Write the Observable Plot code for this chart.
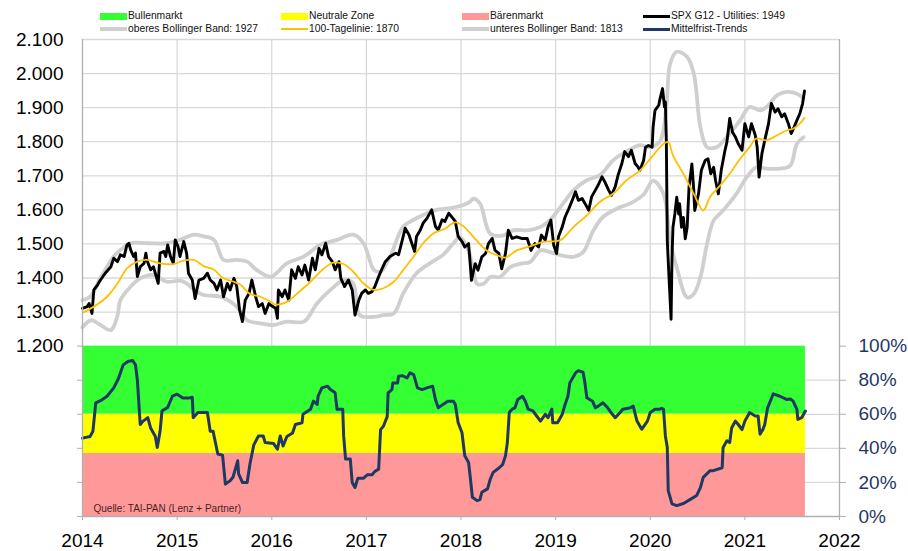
<!DOCTYPE html>
<html>
<head>
<meta charset="utf-8">
<script src="https://cdn.jsdelivr.net/npm/d3@7"></script>
<script src="https://cdn.jsdelivr.net/npm/@observablehq/plot@0.6"></script>
<style>
  html, body { margin: 0; padding: 0; background: #fff; }
  #legend { position: relative; width: 908px; height: 31px; font-family: "Liberation Sans", Arial, sans-serif; font-size: 10.3px; color: #111; }
  #legend .sw { position: absolute; }
  #legend .tx { position: absolute; line-height: 12px; white-space: nowrap; }
  #chart svg { display: block; }
</style>
</head>
<body>
<div id="legend"></div>
<div id="chart"></div>
<script>
// ---------- DATA ----------
const yearTicks = [2014, 2015, 2016, 2017, 2018, 2019, 2020, 2021, 2022];
const priceTicks = [1200, 1300, 1400, 1500, 1600, 1700, 1800, 1900, 2000, 2100];
const pctTicks = [0, 20, 40, 60, 80, 100];

// Market zones of the trend panel (percent limits)
const zoneNames = ["Bullenmarkt", "Neutrale Zone", "Bärenmarkt"];
const zoneLo = [60, 37, 0];
const zoneHi = [100, 60, 37];

const legendRow1 = ["Bullenmarkt", "Neutrale Zone", "Bärenmarkt", "SPX G12 - Utilities: 1949"];
const legendRow2 = ["oberes Bollinger Band: 1927", "100-Tagelinie: 1870", "unteres Bollinger Band: 1813", "Mittelfrist-Trends"];
const sourceText = "Quelle: TAI-PAN (Lenz + Partner)";

// [decimal year, index value]
const spx = [
[2014.00,1311],[2014.05,1316],[2014.07,1325],[2014.10,1296],[2014.12,1365],[2014.16,1380],[2014.19,1394],[2014.24,1414],[2014.30,1433],[2014.33,1458],[2014.37,1448],[2014.40,1468],[2014.44,1463],[2014.47,1497],[2014.49,1502],[2014.51,1482],[2014.54,1463],[2014.56,1473],[2014.58,1404],[2014.61,1433],[2014.65,1443],[2014.67,1473],[2014.68,1453],[2014.72,1424],[2014.75,1433],[2014.80,1384],[2014.82,1473],[2014.86,1478],[2014.88,1463],[2014.90,1497],[2014.93,1463],[2014.96,1443],[2014.98,1512],[2015.01,1492],[2015.03,1463],[2015.07,1507],[2015.10,1473],[2015.12,1414],[2015.16,1394],[2015.19,1340],[2015.23,1394],[2015.28,1399],[2015.32,1414],[2015.35,1394],[2015.39,1384],[2015.42,1365],[2015.46,1394],[2015.49,1345],[2015.53,1384],[2015.56,1365],[2015.60,1399],[2015.63,1375],[2015.66,1306],[2015.69,1272],[2015.72,1335],[2015.76,1355],[2015.79,1394],[2015.83,1345],[2015.86,1316],[2015.90,1325],[2015.93,1296],[2015.97,1325],[2015.99,1320],[2016.04,1311],[2016.06,1282],[2016.07,1365],[2016.11,1345],[2016.14,1365],[2016.18,1335],[2016.21,1424],[2016.25,1399],[2016.28,1433],[2016.32,1409],[2016.35,1438],[2016.39,1394],[2016.43,1458],[2016.46,1424],[2016.50,1487],[2016.53,1468],[2016.57,1502],[2016.60,1463],[2016.64,1448],[2016.67,1424],[2016.71,1448],[2016.73,1399],[2016.77,1375],[2016.81,1394],[2016.85,1365],[2016.88,1291],[2016.92,1335],[2016.95,1355],[2016.99,1365],[2017.02,1355],[2017.06,1360],[2017.09,1375],[2017.13,1404],[2017.16,1424],[2017.20,1448],[2017.25,1463],[2017.31,1473],[2017.34,1468],[2017.38,1512],[2017.41,1546],[2017.45,1527],[2017.48,1502],[2017.51,1478],[2017.53,1522],[2017.57,1541],[2017.60,1561],[2017.64,1575],[2017.69,1600],[2017.73,1551],[2017.76,1541],[2017.80,1571],[2017.83,1566],[2017.87,1590],[2017.90,1580],[2017.94,1566],[2017.97,1522],[2018.01,1507],[2018.04,1491],[2018.08,1501],[2018.10,1432],[2018.11,1393],[2018.15,1442],[2018.18,1423],[2018.22,1462],[2018.26,1472],[2018.29,1501],[2018.33,1516],[2018.36,1481],[2018.40,1472],[2018.43,1427],[2018.47,1472],[2018.50,1540],[2018.54,1516],[2018.59,1521],[2018.64,1516],[2018.70,1516],[2018.74,1481],[2018.78,1501],[2018.82,1491],[2018.85,1526],[2018.89,1511],[2018.92,1550],[2018.95,1570],[2018.98,1496],[2019.01,1472],[2019.03,1521],[2019.07,1550],[2019.10,1579],[2019.14,1604],[2019.17,1624],[2019.21,1653],[2019.24,1628],[2019.28,1633],[2019.31,1619],[2019.35,1599],[2019.38,1638],[2019.42,1658],[2019.45,1673],[2019.49,1697],[2019.52,1682],[2019.56,1658],[2019.59,1643],[2019.63,1668],[2019.66,1702],[2019.70,1736],[2019.73,1771],[2019.77,1756],[2019.80,1775],[2019.84,1736],[2019.87,1726],[2019.89,1716],[2019.93,1745],[2019.95,1784],[2019.98,1789],[2020.02,1784],[2020.03,1843],[2020.05,1892],[2020.09,1907],[2020.10,1922],[2020.13,1956],[2020.15,1902],[2020.16,1917],[2020.17,1804],[2020.18,1510],[2020.20,1392],[2020.22,1279],[2020.23,1461],[2020.24,1549],[2020.26,1588],[2020.28,1637],[2020.30,1588],[2020.31,1618],[2020.33,1549],[2020.35,1578],[2020.37,1515],[2020.39,1549],[2020.41,1667],[2020.44,1735],[2020.46,1657],[2020.47,1598],[2020.51,1647],[2020.54,1716],[2020.58,1745],[2020.61,1750],[2020.64,1706],[2020.67,1725],[2020.69,1686],[2020.72,1647],[2020.75,1716],[2020.79,1775],[2020.81,1799],[2020.84,1868],[2020.87,1828],[2020.90,1814],[2020.93,1794],[2020.97,1775],[2021.00,1853],[2021.04,1814],[2021.07,1853],[2021.11,1819],[2021.13,1784],[2021.15,1696],[2021.18,1765],[2021.21,1804],[2021.25,1853],[2021.28,1912],[2021.32,1887],[2021.35,1897],[2021.39,1873],[2021.42,1882],[2021.46,1853],[2021.49,1824],[2021.52,1843],[2021.55,1863],[2021.58,1882],[2021.61,1912],[2021.63,1949]
];

const ma100 = [
[2014.00,1298],[2014.12,1316],[2014.26,1345],[2014.37,1384],[2014.47,1428],[2014.58,1448],[2014.68,1453],[2014.82,1443],[2014.96,1441],[2015.07,1451],[2015.18,1453],[2015.28,1435],[2015.39,1424],[2015.49,1399],[2015.60,1389],[2015.67,1380],[2015.77,1353],[2015.88,1345],[2015.99,1330],[2016.04,1322],[2016.16,1330],[2016.27,1355],[2016.41,1389],[2016.55,1428],[2016.65,1445],[2016.76,1441],[2016.86,1419],[2016.97,1384],[2017.08,1365],[2017.18,1370],[2017.29,1389],[2017.39,1424],[2017.50,1463],[2017.60,1502],[2017.71,1531],[2017.82,1543],[2017.94,1563],[2018.03,1551],[2018.13,1521],[2018.27,1481],[2018.38,1467],[2018.47,1460],[2018.59,1481],[2018.73,1493],[2018.87,1506],[2019.05,1511],[2019.19,1550],[2019.33,1584],[2019.47,1624],[2019.61,1648],[2019.75,1687],[2019.89,1715],[2020.03,1760],[2020.14,1794],[2020.19,1799],[2020.24,1760],[2020.35,1706],[2020.46,1647],[2020.56,1598],[2020.63,1637],[2020.74,1672],[2020.84,1706],[2020.95,1750],[2021.05,1784],[2021.12,1809],[2021.23,1804],[2021.34,1819],[2021.44,1833],[2021.51,1838],[2021.58,1853],[2021.63,1870]
];

const upperBand = [
[2014.00,1335],[2014.08,1345],[2014.19,1400],[2014.33,1463],[2014.40,1482],[2014.51,1502],[2014.68,1502],[2014.89,1502],[2015.03,1512],[2015.18,1527],[2015.28,1522],[2015.39,1512],[2015.49,1453],[2015.63,1453],[2015.74,1448],[2015.84,1424],[2015.99,1404],[2016.16,1443],[2016.34,1463],[2016.51,1497],[2016.69,1512],[2016.86,1527],[2016.97,1502],[2017.08,1424],[2017.15,1419],[2017.25,1463],[2017.39,1551],[2017.50,1571],[2017.60,1585],[2017.74,1600],[2017.89,1605],[2018.03,1615],[2018.10,1625],[2018.13,1633],[2018.20,1619],[2018.31,1530],[2018.45,1525],[2018.55,1540],[2018.70,1540],[2018.84,1550],[2018.94,1570],[2019.08,1619],[2019.19,1658],[2019.33,1687],[2019.47,1702],[2019.61,1746],[2019.75,1771],[2019.89,1790],[2019.99,1784],[2020.10,1800],[2020.17,1902],[2020.21,2029],[2020.28,2064],[2020.39,2049],[2020.46,2000],[2020.53,1843],[2020.60,1784],[2020.70,1784],[2020.84,1824],[2020.95,1863],[2021.05,1902],[2021.16,1892],[2021.23,1902],[2021.34,1936],[2021.44,1946],[2021.55,1941],[2021.62,1927]
];

const lowerBand = [
[2014.00,1255],[2014.09,1276],[2014.19,1262],[2014.30,1247],[2014.37,1290],[2014.40,1335],[2014.51,1375],[2014.61,1399],[2014.75,1409],[2014.89,1389],[2015.03,1392],[2015.10,1384],[2015.18,1365],[2015.28,1350],[2015.46,1345],[2015.63,1316],[2015.74,1276],[2015.88,1267],[2016.02,1262],[2016.16,1272],[2016.34,1272],[2016.48,1326],[2016.62,1365],[2016.76,1394],[2016.86,1384],[2016.93,1291],[2017.08,1286],[2017.18,1291],[2017.29,1296],[2017.39,1355],[2017.53,1414],[2017.67,1443],[2017.81,1468],[2017.92,1502],[2017.99,1520],[2018.08,1480],[2018.13,1420],[2018.17,1383],[2018.24,1383],[2018.31,1403],[2018.41,1403],[2018.52,1432],[2018.63,1442],[2018.73,1447],[2018.84,1481],[2018.94,1476],[2019.05,1467],[2019.19,1462],[2019.29,1476],[2019.40,1540],[2019.50,1579],[2019.65,1604],[2019.79,1619],[2019.93,1645],[2020.03,1686],[2020.14,1647],[2020.21,1510],[2020.28,1431],[2020.39,1343],[2020.46,1353],[2020.53,1402],[2020.60,1500],[2020.67,1569],[2020.77,1598],[2020.91,1647],[2021.02,1696],[2021.12,1725],[2021.23,1721],[2021.37,1721],[2021.48,1730],[2021.55,1794],[2021.62,1813]
];

// [decimal year, percent]
const trend = [
[2014.00,46],[2014.08,47],[2014.11,50],[2014.14,66.7],[2014.19,68],[2014.26,70.6],[2014.33,75.5],[2014.38,81],[2014.43,89],[2014.48,91],[2014.53,91.6],[2014.56,89],[2014.58,80],[2014.61,54],[2014.64,56],[2014.69,58],[2014.72,52],[2014.77,47],[2014.79,40.5],[2014.82,50],[2014.84,62],[2014.90,64],[2014.95,70.6],[2015.00,71.8],[2015.06,69.5],[2015.12,69.5],[2015.16,70],[2015.17,58],[2015.22,61],[2015.32,61],[2015.35,50],[2015.38,50],[2015.43,36.7],[2015.48,36],[2015.51,19],[2015.56,21],[2015.59,23],[2015.64,32.7],[2015.65,25],[2015.69,20],[2015.74,20],[2015.77,31],[2015.81,42],[2015.86,47.3],[2015.91,47.3],[2015.93,43.4],[2016.02,42.8],[2016.06,39.5],[2016.09,47.3],[2016.12,41.4],[2016.16,47],[2016.22,49],[2016.25,54],[2016.32,55],[2016.33,60],[2016.41,62.9],[2016.44,67.7],[2016.48,65.8],[2016.49,70.6],[2016.53,75.5],[2016.59,76.5],[2016.62,74.5],[2016.67,72.6],[2016.69,62.9],[2016.75,63],[2016.76,47.3],[2016.78,33.7],[2016.83,33.7],[2016.85,20],[2016.88,17],[2016.91,22.5],[2016.97,22.5],[2017.01,24.5],[2017.06,24.5],[2017.09,26.5],[2017.13,27.8],[2017.15,51],[2017.18,53],[2017.22,58.6],[2017.23,72.6],[2017.27,74.5],[2017.28,78.4],[2017.33,78.4],[2017.34,82.3],[2017.38,82.7],[2017.43,81.3],[2017.46,84.3],[2017.50,83.3],[2017.54,75.5],[2017.59,74.5],[2017.64,75.5],[2017.70,76.5],[2017.73,68.7],[2017.76,63.8],[2017.81,65.8],[2017.86,67.7],[2017.92,67.7],[2017.94,65.8],[2017.97,55],[2018.01,49.3],[2018.04,35.6],[2018.08,31.7],[2018.10,22],[2018.12,11.3],[2018.17,9.3],[2018.20,9.9],[2018.22,14.2],[2018.28,16.2],[2018.31,22],[2018.34,25.9],[2018.39,28],[2018.44,30.5],[2018.47,35.6],[2018.49,43.4],[2018.51,61],[2018.54,63],[2018.57,63.8],[2018.60,68.7],[2018.65,70.6],[2018.68,67.7],[2018.71,63],[2018.76,62],[2018.80,59],[2018.84,56],[2018.89,60],[2018.92,58],[2018.96,63],[2018.97,55],[2019.02,55],[2019.07,60],[2019.10,65.8],[2019.13,70.6],[2019.15,78.4],[2019.21,84.3],[2019.24,85.6],[2019.29,84.7],[2019.31,78.4],[2019.33,69.7],[2019.39,67.7],[2019.42,63.8],[2019.45,64.8],[2019.50,66.8],[2019.55,63.8],[2019.60,60],[2019.63,58],[2019.68,61],[2019.71,63],[2019.79,63.8],[2019.82,64.8],[2019.86,56],[2019.91,51.2],[2019.97,56],[2020.00,61],[2020.05,62.9],[2020.10,63],[2020.12,63.5],[2020.14,63],[2020.16,47.3],[2020.18,40.5],[2020.19,15.2],[2020.23,7.4],[2020.28,6.4],[2020.35,7.6],[2020.42,9.9],[2020.49,12.3],[2020.53,17],[2020.56,23],[2020.63,26.8],[2020.66,26.8],[2020.76,28.6],[2020.77,40.5],[2020.81,44.4],[2020.84,43.4],[2020.86,52],[2020.90,56],[2020.93,54],[2020.97,51],[2021.00,56],[2021.03,59],[2021.05,61],[2021.11,59],[2021.14,59],[2021.16,48.3],[2021.19,51],[2021.21,54],[2021.24,63.8],[2021.29,70.6],[2021.30,72],[2021.37,70.6],[2021.44,68.7],[2021.48,69],[2021.51,67.7],[2021.55,62.9],[2021.56,57],[2021.60,58],[2021.64,61.9]
];

// ---------- STYLES ----------
const zoneColors = ["#33FF33", "#FFFF00", "#FF9999"];
const cGrid = "#d9d9d9", cAxis = "#b0b0b0", cBand = "#cfcfcf", cSpx = "#000000", cMA = "#FFC000", cTrend = "#1F3864";

// ---------- LEGEND (HTML) ----------
const legendSwatches1 = [
  {type: "rect", color: zoneColors[0]}, {type: "rect", color: zoneColors[1]},
  {type: "rect", color: zoneColors[2]}, {type: "line", color: cSpx, w: 3}
];
const legendSwatches2 = [
  {type: "line", color: cBand, w: 4}, {type: "line", color: cMA, w: 2},
  {type: "line", color: cBand, w: 4}, {type: "line", color: cTrend, w: 3}
];
const colLeft = [100, 281, 462, 643];
const legend = document.getElementById("legend");
function addEntry(label, sw, col, cy) {
  const s = document.createElement("div");
  s.className = "sw";
  const h = sw.type === "rect" ? 7 : sw.w;
  s.style.cssText = `left:${colLeft[col]}px;top:${cy - h / 2}px;width:27px;height:${h}px;background:${sw.color};`;
  legend.appendChild(s);
  const t = document.createElement("div");
  t.className = "tx";
  t.textContent = label;
  t.style.left = (colLeft[col] + 28) + "px";
  t.style.top = (cy - 6.5) + "px";
  legend.appendChild(t);
}
legendRow1.forEach((l, i) => addEntry(l, legendSwatches1[i], i, 16.5));
legendRow2.forEach((l, i) => addEntry(l, legendSwatches2[i], i, 29));

// ---------- CHART ----------
const deFormat = d3.formatLocale({decimal: ",", thousands: ".", grouping: [3], currency: ["", " €"]}).format(",");
const pctToY = p => 700 + 5 * p;   // the trend panel shares the y scale: 0% .. 100% below 1.200
const zones = zoneNames.map((n, i) => ({name: n, lo: zoneLo[i], hi: zoneHi[i], color: zoneColors[i]}));
const tStart = trend[0][0], tEnd = trend[trend.length - 1][0];

const chart = Plot.plot({
  width: 908,
  height: 520,
  marginTop: 8,
  marginBottom: 35,
  marginLeft: 82,
  marginRight: 69,
  x: {domain: [2014, 2022]},
  y: {domain: [700, 2100]},
  color: {type: "identity"},
  style: {fontFamily: "'Liberation Sans', Arial, sans-serif", fontSize: "19px", background: "#fff", color: "#000", overflow: "visible"},
  marks: [
    Plot.ruleY(priceTicks.slice(1), {stroke: cGrid, strokeWidth: 1.3}),
    Plot.ruleY(pctTicks.slice(1, -1).map(pctToY), {stroke: cGrid, strokeWidth: 1.3}),
    Plot.ruleX(yearTicks.slice(1, -1), {y1: priceTicks[0], y2: priceTicks[priceTicks.length - 1], stroke: cGrid, strokeWidth: 1.3}),
    Plot.rect(zones, {x1: () => tStart, x2: () => tEnd, y1: d => pctToY(d.lo), y2: d => pctToY(d.hi), fill: "color"}),
    Plot.line(upperBand, {x: d => d[0], y: d => d[1], stroke: cBand, strokeWidth: 3.8, curve: "catmull-rom"}),
    Plot.line(lowerBand, {x: d => d[0], y: d => d[1], stroke: cBand, strokeWidth: 3.8, curve: "catmull-rom"}),
    Plot.line(spx, {x: d => d[0], y: d => d[1], stroke: cSpx, strokeWidth: 2.9, strokeLinejoin: "round"}),
    Plot.line(ma100, {x: d => d[0], y: d => d[1], stroke: cMA, strokeWidth: 1.8, curve: "catmull-rom"}),
    Plot.line(trend, {x: d => d[0], y: d => pctToY(d[1]), stroke: cTrend, strokeWidth: 3, strokeLinejoin: "round"}),
    Plot.text([sourceText], {frameAnchor: "bottom-left", dx: 11, dy: -8, lineAnchor: "middle", textAnchor: "start", text: d => d, fontSize: 10, fill: "#4a1f1f", fontFamily: "'Liberation Sans', Arial, sans-serif"}),
    Plot.ruleX([yearTicks[0], yearTicks[yearTicks.length - 1]], {stroke: cAxis, strokeWidth: 1.3}),
    Plot.ruleY([pctToY(0)], {stroke: cAxis, strokeWidth: 1.3}),
    Plot.axisY(priceTicks, {anchor: "left", tickSize: 0, tickPadding: 19, tickFormat: deFormat, label: null, fill: "#000"}),
    Plot.axisY(pctTicks.map(pctToY), {anchor: "left", tickSize: 5, tickFormat: () => "", label: null, stroke: cAxis}),
    Plot.axisY(pctTicks.map(pctToY), {anchor: "right", tickSize: 6, tickPadding: 13, tickFormat: d => `${Math.round((d - 700) / 5)}%`, label: null, stroke: cAxis, fill: cTrend}),
    Plot.axisX(yearTicks, {anchor: "bottom", tickSize: 4, tickPadding: 13, tickFormat: d => String(d), label: null, stroke: cAxis, fill: "#000"})
  ]
});
document.getElementById("chart").appendChild(chart);
</script>
</body>
</html>
